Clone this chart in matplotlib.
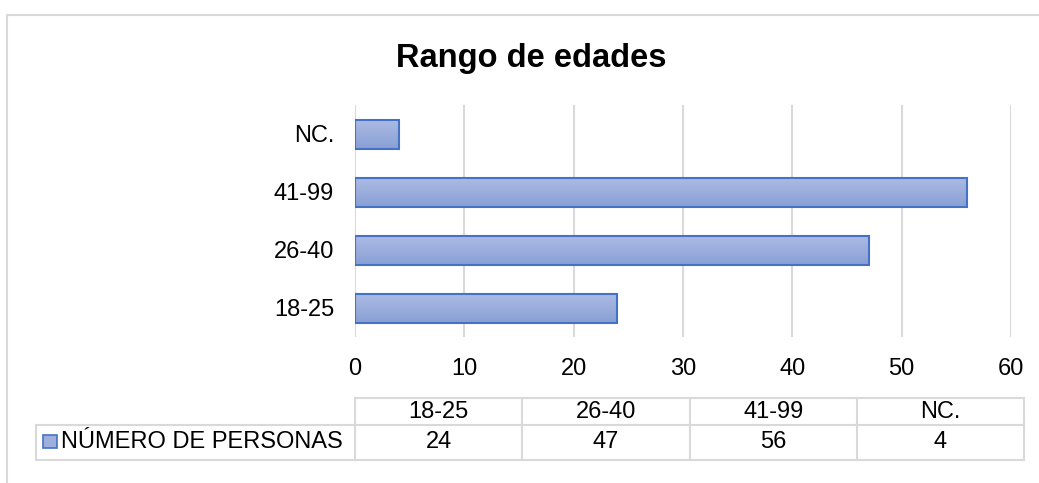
import numpy as np
import matplotlib
matplotlib.use("Agg")
import matplotlib.pyplot as plt
from matplotlib.colors import LinearSegmentedColormap

plt.rcParams['font.family'] = ['Liberation Sans', 'DejaVu Sans']

# data
categories = ["18-25", "26-40", "41-99", "NC."]
personas = [24, 47, 56, 4]
series_name = "NÚMERO DE PERSONAS"
x_ticks = [0, 10, 20, 30, 40, 50, 60]
title = "Rango de edades"

W, H = 1039, 483
fig = plt.figure(figsize=(W / 100, H / 100), dpi=100)


def fx(x):
    return x / W


def fy(y):
    return 1 - y / H


grid_col = "#d9d9d9"
edge_col = "#4472c4"
fs = 17

# chart area
ax = fig.add_axes([fx(355), fy(337), fx(1011) - fx(355), fy(105) - fy(337)])
ypos = np.arange(len(categories))
bars = ax.barh(ypos, personas, height=0.5, facecolor="none",
               edgecolor=edge_col, linewidth=1.5, zorder=3)

# soft vertical gradient inside every bar
cmap = LinearSegmentedColormap.from_list("barfill", ["#adbce5", "#8aa0d5"])
grad = np.linspace(0, 1, 64).reshape(-1, 1)
for b in bars:
    x0, y0 = b.get_x(), b.get_y()
    img = ax.imshow(grad, cmap=cmap, aspect="auto", zorder=2,
                    extent=[x0, x0 + b.get_width(), y0, y0 + b.get_height()])
    img.set_clip_path(b)

ax.set_xlim(0, 60)
ax.set_ylim(-0.5, len(categories) - 0.5)
ax.set_xticks(x_ticks)
ax.set_yticks(ypos)
ax.set_yticklabels(categories)
ax.tick_params(axis="x", length=0, pad=15, labelsize=fs, colors="#000000")
ax.tick_params(axis="y", length=0, pad=15, labelsize=fs, colors="#000000")
for s in ax.spines.values():
    s.set_visible(False)
ax.grid(axis="x", color=grid_col, linewidth=1.5, zorder=0)
ax.set_axisbelow(True)

fig.text(fx(531), fy(58), title, ha="center", va="center",
         fontsize=23.5, fontweight="bold")

# data table under the chart
def hline(x0, x1, y):
    fig.add_artist(plt.Line2D([fx(x0), fx(x1)], [fy(y), fy(y)],
                              color=grid_col, linewidth=1.5))


def vline(x, y0, y1):
    fig.add_artist(plt.Line2D([fx(x), fx(x)], [fy(y0), fy(y1)],
                              color=grid_col, linewidth=1.5))


t_left, t_right = 355, 1024
top, mid, bot = 398, 425, 460
col_w = (t_right - t_left) / len(categories)

hline(t_left, t_right, top)
hline(36, t_right, mid)
hline(36, t_right, bot)
vline(36, mid, bot)
for i in range(len(categories) + 1):
    vline(t_left + i * col_w, top, bot)

for i, (cat, val) in enumerate(zip(categories, personas)):
    cx = t_left + (i + 0.5) * col_w
    fig.text(fx(cx), fy((top + mid) / 2), cat, ha="center", va="center", fontsize=fs)
    fig.text(fx(cx), fy((mid + bot) / 2), str(val), ha="center", va="center", fontsize=fs)

# legend key
fig.add_artist(plt.Rectangle((fx(43), fy(448)), fx(14), fy(435) - fy(448),
                             facecolor="#9dafdc", edgecolor=edge_col, linewidth=1.2))
fig.text(fx(61), fy((mid + bot) / 2), series_name, ha="left", va="center", fontsize=fs)

# outer chart border (only top and left edges visible in the frame)
hline(7, W, 15)
vline(7, 15, H)

fig.savefig("out.png", dpi=100)
